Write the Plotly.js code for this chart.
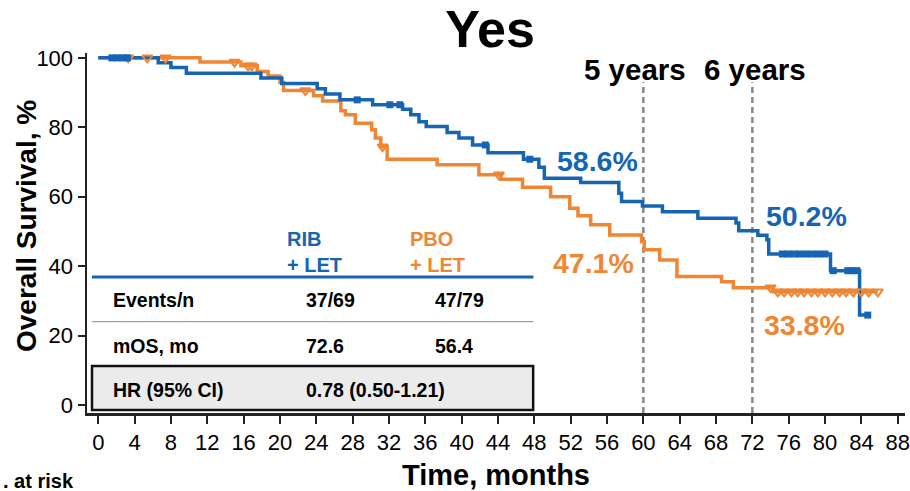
<!DOCTYPE html>
<html>
<head>
<meta charset="utf-8">
<script src="https://cdn.plot.ly/plotly-3.0.1.min.js"></script>
<style>html,body{margin:0;padding:0;background:#fff;}#chart{width:910px;height:491px;}</style>
</head>
<body>
<div id="chart"></div>
<script>
// ---- Data (months, overall survival %) ----
const ribTimes = [0, 6.6, 8.0, 9.7, 17.9, 20.2, 24.1, 25.0, 26.6, 30.2, 33.5, 34.4, 35.3, 36.1, 38.4, 39.7, 41.2, 42.9, 46.8, 48.5, 49.1, 53.1, 57.3, 57.6, 59.9, 62.1, 66.0, 70.2, 70.5, 72.6, 73.6, 73.8, 80.6, 83.8, 84.7];
const ribSurv  = [100, 98.6, 97.2, 95.6, 94.2, 92.6, 91.1, 89.6, 87.9, 86.5, 85.2, 83.6, 81.6, 80.2, 78.5, 76.9, 74.9, 72.7, 70.8, 68.5, 65.3, 64.1, 61.0, 58.6, 57.3, 55.7, 53.8, 52.4, 50.2, 48.9, 47.6, 43.5, 38.7, 25.9, 25.9];
const pboTimes = [0, 11.2, 15.7, 17.5, 18.7, 20.0, 20.4, 23.7, 24.7, 26.7, 27.2, 28.3, 30.1, 30.5, 31.1, 31.8, 37.3, 41.9, 44.3, 46.7, 49.8, 51.9, 52.8, 54.2, 56.3, 59.8, 60.1, 61.8, 63.7, 68.6, 69.9, 74.3, 85.8];
const pboSurv  = [100, 98.8, 97.7, 96.1, 94.8, 92.9, 90.6, 89.1, 87.6, 84.8, 83.6, 81.2, 79.3, 76.9, 74.4, 70.8, 69.2, 66.3, 65.0, 62.7, 60.0, 56.7, 54.5, 51.9, 49.0, 47.1, 44.7, 41.8, 37.0, 35.5, 33.8, 32.6, 32.6];

const ribCensorTimes = [1.5, 2.1, 2.7, 3.2, 28.5, 32.1, 33.2, 42.6, 47.5, 75.3, 75.9, 76.6, 77.2, 77.9, 78.6, 79.3, 80.0, 80.9, 82.5, 83.0, 83.5, 84.7];
const ribCensorSurv  = [100, 100, 100, 100, 87.9, 86.5, 86.5, 74.9, 70.8, 43.5, 43.5, 43.5, 43.5, 43.5, 43.5, 43.5, 43.5, 38.7, 38.7, 38.7, 38.7, 25.9];
const pboCensorTimes = [3.3, 5.4, 7.4, 15.0, 16.5, 16.9, 22.8, 31.3, 44.1, 74.0, 74.8, 75.5, 76.3, 77.0, 77.7, 78.5, 79.2, 80.0, 80.8, 81.6, 82.3, 83.1, 84.0, 84.8, 85.8];
const pboCensorSurv  = [100, 100, 100, 98.8, 97.7, 97.7, 90.6, 74.4, 66.3, 33.8, 32.6, 32.6, 32.6, 32.6, 32.6, 32.6, 32.6, 32.6, 32.6, 32.6, 32.6, 32.6, 32.6, 32.6, 32.6];

const landmarkMonths = [60, 72];
const landmarkLabels = ["5 years", "6 years"];
const ribLandmarkText = ["58.6%", "50.2%"];
const pboLandmarkText = ["47.1%", "33.8%"];

const tableArms = ["RIB<br>+ LET", "PBO<br>+ LET"];
const tableRows = ["Events/n", "mOS, mo", "HR (95% CI)"];
const ribCol = ["37/69", "72.6"];
const pboCol = ["47/79", "56.4"];
const hrText = "0.78 (0.50-1.21)";

const xTicks = [0,4,8,12,16,20,24,28,32,36,40,44,48,52,56,60,64,68,72,76,80,84,88];
const yTicks = [0,20,40,60,80,100];

// ---- Styling ----
const BLUE = "#1565b4";
const ORANGE = "#ef8633";
const FONT = "Liberation Sans, Arial, Helvetica, sans-serif";

const traces = [
  {x: pboTimes, y: pboSurv, mode: "lines", line: {shape: "hv", color: ORANGE, width: 3.5}, hoverinfo: "skip"},
  {x: ribTimes, y: ribSurv, mode: "lines", line: {shape: "hv", color: BLUE, width: 3.5}, hoverinfo: "skip"},
  {x: pboCensorTimes, y: pboCensorSurv, mode: "markers", marker: {symbol: "triangle-down-open", size: 9, color: ORANGE, line: {width: 2, color: ORANGE}}, hoverinfo: "skip"},
  {x: ribCensorTimes, y: ribCensorSurv, mode: "markers", marker: {symbol: "square", size: 7, color: BLUE}, hoverinfo: "skip"}
];

const ann = [];
function t(x, y, text, size, color, xanchor, extra) {
  ann.push(Object.assign({x: x, y: y, xref: "x", yref: "y", text: text, showarrow: false,
    xanchor: xanchor || "left", yanchor: "middle",
    font: {family: FONT, size: size, color: color || "#000"}}, extra || {}));
}
// landmark labels
t(53.3, 96.6, "<b>" + landmarkLabels[0] + "</b>", 29.5, "#000");
t(66.5, 96.6, "<b>" + landmarkLabels[1] + "</b>", 29.5, "#000");
t(50.3, 70.3, "<b>" + ribLandmarkText[0] + "</b>", 28.5, BLUE);
t(73.3, 54.5, "<b>" + ribLandmarkText[1] + "</b>", 28.5, BLUE);
t(49.8, 40.9, "<b>" + pboLandmarkText[0] + "</b>", 28.5, ORANGE);
t(73.1, 23.1, "<b>" + pboLandmarkText[1] + "</b>", 28.5, ORANGE);
// table
t(20.55, 44.0, "<b>" + tableArms[0] + "</b>", 20, BLUE, "left", {align: "left"});
t(34.1, 44.0, "<b>" + tableArms[1] + "</b>", 20, ORANGE, "left", {align: "left"});
t(1.4, 30.3, "<b>" + tableRows[0] + "</b>", 19.5, "#000");
t(22.65, 30.3, "<b>" + ribCol[0] + "</b>", 19.5, "#000");
t(36.8, 30.3, "<b>" + pboCol[0] + "</b>", 19.5, "#000");
t(1.4, 17.0, "<b>" + tableRows[1] + "</b>", 19.5, "#000");
t(22.65, 17.0, "<b>" + ribCol[1] + "</b>", 19.5, "#000");
t(36.8, 17.0, "<b>" + pboCol[1] + "</b>", 19.5, "#000");
t(1.4, 4.3, "<b>" + tableRows[2] + "</b>", 19.5, "#000");
t(22.65, 4.3, "<b>" + hrText + "</b>", 19.5, "#000");
// axis titles
ann.push({xref: "paper", yref: "paper", x: (496-87)/818, y: -(475-413)/360, text: "<b>Time, months</b>", showarrow: false,
  xanchor: "center", yanchor: "middle", font: {family: FONT, size: 29, color: "#000"}});
ann.push({xref: "paper", yref: "paper", x: -(87-27)/818, y: (413-226)/360, text: "<b>Overall Survival, %</b>", showarrow: false,
  textangle: -90, xanchor: "center", yanchor: "middle", font: {family: FONT, size: 28, color: "#000"}});
ann.push({xref: "paper", yref: "paper", x: -(87-1)/818, y: -(481-413)/360, text: "<b>. at risk</b>", showarrow: false,
  xanchor: "left", yanchor: "middle", font: {family: FONT, size: 20, color: "#000"}});

const shapes = [];
landmarkMonths.forEach(m => shapes.push({type: "line", xref: "x", yref: "y", x0: m, x1: m, y0: -2.3, y1: 93.0,
  line: {color: "#888", width: 2.5, dash: "6px,4px"}, layer: "below"}));
shapes.push({type: "line", xref: "x", yref: "y", x0: -0.69, x1: 47.9, y0: 36.9, y1: 36.9, line: {color: BLUE, width: 3}});
shapes.push({type: "line", xref: "x", yref: "y", x0: -0.69, x1: 47.9, y0: 24.0, y1: 24.0, line: {color: "#888", width: 1}});
shapes.push({type: "rect", xref: "x", yref: "y", x0: -0.69, x1: 47.87, y0: -1.44, y1: 11.24, fillcolor: "#ebebeb", line: {color: "#111", width: 2.5}, layer: "above"});

const layout = {
  width: 910, height: 491,
  margin: {l: 87, r: 5, t: 53, b: 78},
  paper_bgcolor: "#fff", plot_bgcolor: "#fff",
  showlegend: false,
  title: {text: "<b>Yes</b>", x: 490/910, xanchor: "center", y: 1 - 29/491, yanchor: "middle", font: {family: FONT, size: 52, color: "#000"}},
  xaxis: {range: [-1.24, 88.8], tickvals: xTicks, ticktext: xTicks.map(String), showgrid: false, zeroline: false,
    showline: true, linecolor: "#222", linewidth: 2.5, ticks: "outside", ticklen: 8, tickwidth: 2, tickcolor: "#222",
    tickfont: {family: FONT, size: 22, color: "#000"}, fixedrange: true},
  yaxis: {range: [-2.3, 101.4], tickvals: yTicks, ticktext: yTicks.map(String), showgrid: false, zeroline: false,
    showline: true, linecolor: "#222", linewidth: 2.5, ticks: "outside", ticklen: 7, tickwidth: 2, tickcolor: "#222",
    tickfont: {family: FONT, size: 22, color: "#000"}, fixedrange: true},
  annotations: ann,
  shapes: shapes
};

Plotly.newPlot("chart", traces, layout, {displayModeBar: false, staticPlot: true});
</script>
</body>
</html>
